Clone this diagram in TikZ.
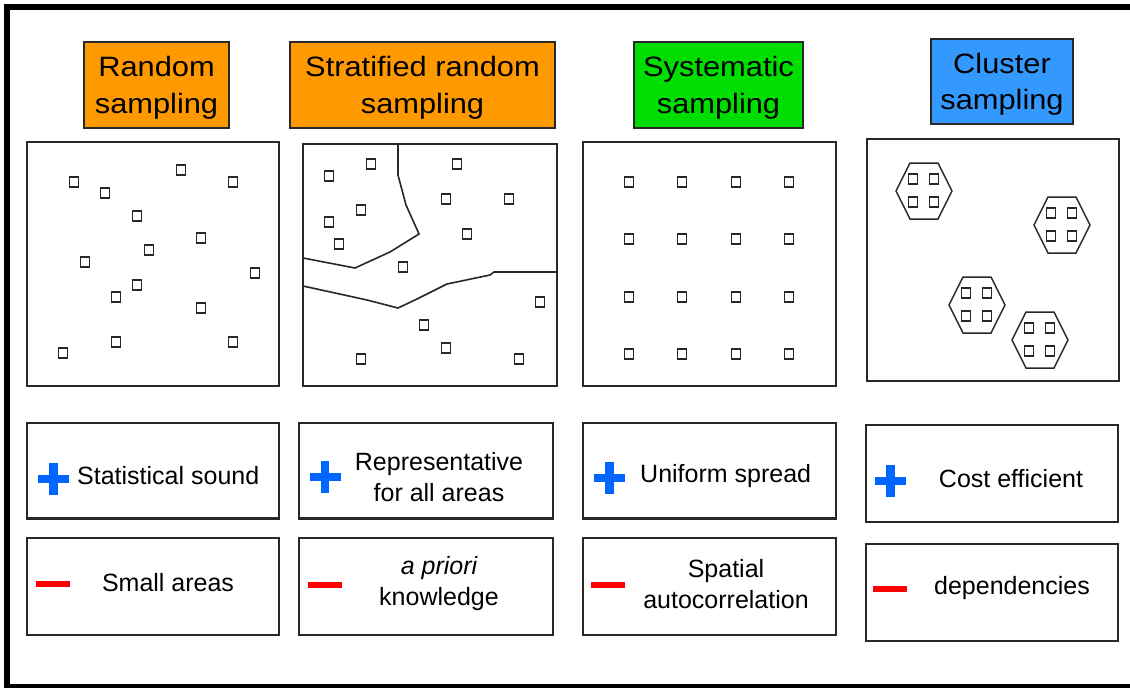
\documentclass[tikz,border=0pt]{standalone}
\usepackage{fontspec}
\setmainfont{Liberation Sans}
\newfontfamily\widefont{Liberation Sans}[FakeStretch=1.1]
\definecolor{tOrange}{RGB}{255,153,0}
\definecolor{tGreen}{RGB}{0,221,0}
\definecolor{tBlue}{RGB}{51,153,255}
\definecolor{pBlue}{RGB}{0,102,255}
\definecolor{mRed}{RGB}{255,0,0}
\definecolor{edge}{RGB}{40,40,40}
\begin{document}
\begin{tikzpicture}[x=1pt,y=-1pt,
  title/.style={draw=edge,line width=1.3,inner sep=0},
  ttxt/.style={inner sep=0,align=center,font=\widefont\fontsize{28}{36.5}\selectfont},
  panel/.style={draw=edge,line width=1.5,inner sep=0},
  info/.style={draw=edge,line width=1.5,inner sep=0},
  txt/.style={inner sep=0,align=center,font=\fontsize{25}{31}\selectfont},
  sq/.style={draw=edge,line width=1.8,minimum width=9,minimum height=10,inner sep=0},
  csq/.style={draw=edge,line width=1.8,minimum width=9,minimum height=10,inner sep=0},
  plus/.style={draw=pBlue,line width=8.5},
  minus/.style={draw=mRed,line width=5.5},
  bound/.style={draw=edge,line width=1.6},
  hexa/.style={draw=edge,line width=1.5}]
\useasboundingbox (0,0) rectangle (1130,688);
\fill[white] (0,0) rectangle (1130,688);
% outer frame
\fill[black] (4,4) rectangle (1130,9.5);
\fill[black] (4,4) rectangle (10,688);
\fill[black] (4,684) rectangle (1130,688);

% titles
\node[title,fill=tOrange,minimum width=145,minimum height=86] (t1) at (156.5,85) {};
\node[title,fill=tOrange,minimum width=265,minimum height=86] (t2) at (422.5,85) {};
\node[title,fill=tGreen,minimum width=169,minimum height=86] (t3) at (718.5,85) {};
\node[title,fill=tBlue,minimum width=142,minimum height=85] (t4) at (1002,81.5) {};
\node[ttxt] (t1l) at ([yshift=-3pt]t1.center) {Random\\sampling};
\node[ttxt] (t2l) at ([yshift=-3pt]t2.center) {Stratified random\\sampling};
\node[ttxt] (t3l) at ([yshift=-3pt]t3.center) {Systematic\\sampling};
\node[ttxt] (t4l) at ([yshift=-3pt]t4.center) {Cluster\\sampling};

% panels
\node[panel,minimum width=252,minimum height=244] (m1) at (153,264) {};
\node[panel,minimum width=254,minimum height=242] (m2) at (430,265) {};
\node[panel,minimum width=253,minimum height=244] (m3) at (709.5,264) {};
\node[panel,minimum width=252,minimum height=242] (m4) at (993,260) {};

% random squares
\foreach \x/\y [count=\i] in {74/182,105/193,181/170,233/182,137/216,201/238,149/250,85/262,255/273,137/285,116/297,201/308,116/342,233/342,63/353}
  \node[sq] (r\i) at (\x,\y) {};

% stratified boundaries
\draw[bound] (398,144) -- (398,175) -- (406,205) -- (419,234) -- (390,252) -- (355,268) -- (303,258);
\draw[bound] (303,286) -- (367,300) -- (398,308) -- (417,299) -- (447,284) -- (490,275) -- (494,272) -- (557,272);
\draw[draw=edge,line width=2.6] (303,144) -- (398,144);
\draw[draw=edge,line width=2.6] (494,272) -- (557,272) -- (557,386) -- (410,386);
% stratified squares
\foreach \x/\y [count=\i] in {371/164,329/176,457/164,361/210,329/222,446/199,509/199,339/244,467/234,403/267,540/302,424/325,446/348,361/359,519/359}
  \node[sq] (s\i) at (\x,\y) {};

% systematic grid
\foreach \x [count=\i] in {629,682,736,789}
  \foreach \y [count=\j] in {182,239,297,354}
    \node[sq] (g\i\j) at (\x,\y) {};

% clusters
\foreach \cx/\cy [count=\k] in {924/191,1062/225,977/305,1040/340}{
  \draw[hexa] (\cx-14,\cy-28) -- (\cx+14,\cy-28) -- (\cx+28,\cy) -- (\cx+14,\cy+28) -- (\cx-14,\cy+28) -- (\cx-28,\cy) -- cycle;
  \node[csq] (c\k a) at (\cx-11,\cy-12) {};
  \node[csq] (c\k b) at (\cx+10,\cy-12) {};
  \node[csq] (c\k c) at (\cx-11,\cy+11) {};
  \node[csq] (c\k d) at (\cx+10,\cy+11) {};
}

% pros boxes
\node[info,minimum width=252,minimum height=95] (p1) at (153,470.5) {};
\node[info,minimum width=254,minimum height=95] (p2) at (426,470.5) {};
\node[info,minimum width=253,minimum height=95] (p3) at (709.5,470.5) {};
\node[info,minimum width=252,minimum height=97] (p4) at (992,473.5) {};
\foreach \n in {p1,p2,p3}
  \draw[draw=edge,line width=2.8] (\n.south west) -- (\n.south east);

% cons boxes
\node[info,minimum width=252,minimum height=97] (n1) at (153,586.5) {};
\node[info,minimum width=254,minimum height=97] (n2) at (426,586.5) {};
\node[info,minimum width=253,minimum height=97] (n3) at (709.5,586.5) {};
\node[info,minimum width=252,minimum height=97] (n4) at (992,592.5) {};

% plus signs
\foreach \x/\y in {53.5/479,325/477,609.5/478,890.5/481}
  \draw[plus] (\x-15.5,\y) -- (\x+15.5,\y) (\x,\y-16) -- (\x,\y+16);
% minus signs
\foreach \x/\y in {52.5/584,325/585,608/585,889.5/589}
  \draw[minus] (\x-17,\y) -- (\x+17,\y);

% texts
\node[txt,anchor=west] (tp1) at (77,476) {Statistical sound};
\node[txt] (tp2) at (439,477) {Representative\\for all areas};
\node[txt,anchor=west] (tp3) at (640,476) {Uniform spread};
\node[txt] (tp4) at (1011,479) {Cost efficient};
\node[txt] (tn1) at (168,583) {Small areas};
\node[txt] (tn2) at (439,584) {\itshape a priori\\knowledge};
\node[txt] (tn3) at (726,584) {Spatial\\autocorrelation};
\node[txt] (tn4) at (1012,588) {dependencies};
\end{tikzpicture}
\end{document}
